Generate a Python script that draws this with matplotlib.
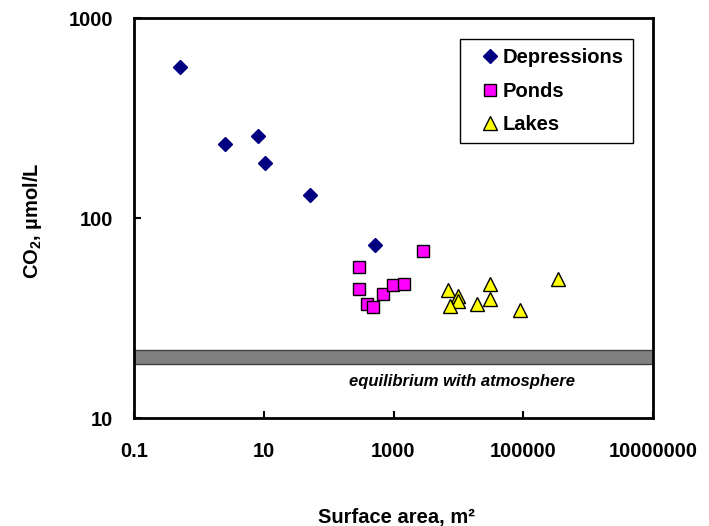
import matplotlib
matplotlib.use("Agg")
import matplotlib.pyplot as plt

plt.rcParams['font.family'] = ['Liberation Sans', 'DejaVu Sans']
plt.rcParams['mathtext.fontset'] = 'custom'
plt.rcParams['mathtext.bf'] = 'Liberation Sans:bold'
plt.rcParams['mathtext.rm'] = 'Liberation Sans:bold'

# valeurs
dep_area = [0.51, 2.5, 8.1, 10.4, 51, 510]
dep_co2 = [570, 234, 256, 188, 131, 73]

pond_area = [2880, 290, 290, 390, 680, 490, 980, 1440]
pond_co2 = [68, 57, 44, 37.2, 41.5, 36, 46, 47]

lake_area = [7000, 9700, 9900, 7400, 19700, 30500, 30500, 88000, 346000]
lake_co2 = [43.5, 40.7, 38.5, 36.3, 37, 46.6, 39.2, 34.7, 49.4]

atm_low, atm_high = 18.6, 21.9
x_ticks = [0.1, 10, 1000, 100000, 10000000]
x_labels = ['0.1', '10', '1000', '100000', '10000000']
y_ticks = [10, 100, 1000]
y_labels = ['10', '100', '1000']

fig = plt.figure(figsize=(7.09, 5.26), dpi=100)
ax = fig.add_axes([134 / 709, 1 - 418 / 526, 519 / 709, 400 / 526])

ax.set_xscale('log')
ax.set_yscale('log')
ax.set_xlim(0.1, 1e7)
ax.set_ylim(10, 1000)

# bande d'equilibre avec l'atmosphere
ax.axhspan(atm_low, atm_high, facecolor='#808080', edgecolor='#404040', lw=1, zorder=1)
ax.text(11500, 15.3, 'equilibrium with atmosphere', ha='center', va='center',
        fontsize=12, fontstyle='italic', fontweight='bold', color='black')

ax.plot(dep_area, dep_co2, 'D', ms=7.5, color='#000080', mec='#000080', ls='none',
        label='Depressions', zorder=3)
ax.plot(pond_area, pond_co2, 's', ms=8.6, color='#FF00FF', mec='black', mew=1,
        ls='none', label='Ponds', zorder=3)
ax.plot(lake_area, lake_co2, '^', ms=9.5, color='#FFFF00', mec='black', mew=1,
        ls='none', label='Lakes', zorder=3)

ax.set_xticks(x_ticks)
ax.set_xticklabels(x_labels)
ax.set_yticks(y_ticks)
ax.set_yticklabels(y_labels)
ax.minorticks_off()
ax.tick_params(axis='both', direction='in', length=5, width=1.5, labelsize=14.5)
ax.tick_params(axis='x', pad=17)
ax.tick_params(axis='y', pad=15)
for t in ax.get_xticklabels() + ax.get_yticklabels():
    t.set_fontweight('bold')

for s in ax.spines.values():
    s.set_linewidth(2)

fig.text(33 / 709, 1 - 221 / 526, r'CO$\mathbf{_2}$, µmol/L', rotation=90, ha='center',
         va='center', fontsize=14.5, fontweight='bold')
fig.text(396 / 709, 0.006, 'Surface area, m²', ha='center', va='baseline',
         fontsize=14.5, fontweight='bold')

leg = ax.legend(loc='upper right', bbox_to_anchor=(0.961, 0.9475), frameon=True,
                fancybox=False, edgecolor='black', framealpha=1,
                prop={'weight': 'bold', 'size': 14.5}, handlelength=2.0,
                handletextpad=-0.35, labelspacing=0.72, borderpad=0.45,
                borderaxespad=0)
leg.get_frame().set_linewidth(1)

fig.savefig('out.png', dpi=100)
